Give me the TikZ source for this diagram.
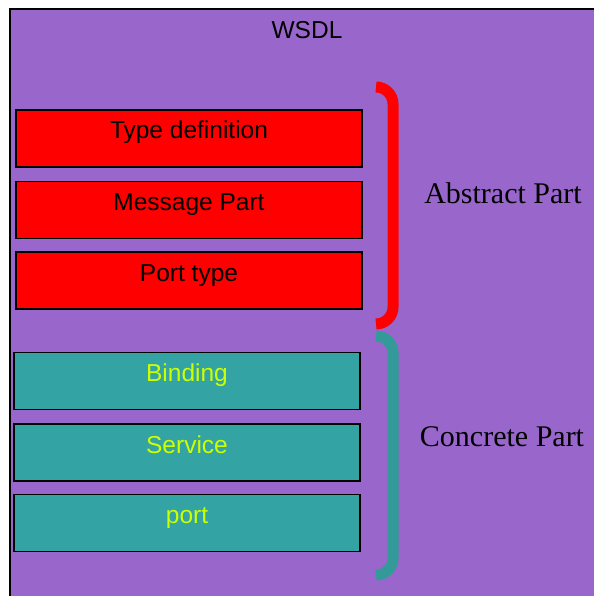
\documentclass[tikz,border=0pt]{standalone}
\usepackage{fontspec}
\setmainfont{Liberation Serif}
\setsansfont{Liberation Sans}
\definecolor{wsdlbg}{HTML}{9966CC}
\definecolor{tealbox}{HTML}{33A3A3}
\definecolor{tealbrace}{HTML}{339999}
\definecolor{limetext}{HTML}{CCFF00}

\begin{document}
\begin{tikzpicture}[
  x=1pt, y=-1pt,
  box/.style={draw=black, line width=1.2pt, minimum width=346pt, minimum height=57pt,
    inner sep=0pt, text height=17pt, text depth=16pt,
    font=\sffamily\fontsize{24.5}{28}\selectfont},
  abs/.style={box, fill=red, text=black},
  con/.style={box, fill=tealbox, text=limetext},
  brace/.style={line width=11pt, rounded corners=17pt},
  side/.style={anchor=base, font=\fontsize{30}{34}\selectfont}
]
\useasboundingbox (0,0) rectangle (594,596);
\fill[wsdlbg] (10,9) rectangle (594,596);
\draw[line width=1.5pt] (10,596) -- (10,9) -- (594,9);

\node[anchor=base, font=\sffamily\fontsize{24.5}{28}\selectfont] (wsdl) at (307,39) {WSDL};

\node[abs] (type) at (189,138.5) {Type definition};
\node[abs] (msg) at (189,210) {Message Part};
\node[abs] (ptype) at (189,280.5) {Port type};

\node[con] (bind) at (187,381) {Binding};
\node[con] (serv) at (187,452.5) {Service};
\node[con] (port) at (187,523) {port};

\coordinate (a1) at (376,87);
\coordinate (a2) at (376,324);
\coordinate (c1) at (376,336);
\coordinate (c2) at (376,575);
\draw[brace, red] (a1) -- ++(17,0) |- (a2);
\draw[brace, tealbrace] (c1) -- ++(17,0) |- (c2);

\node[side] (abspart) at (503,203) {Abstract Part};
\node[side] (conpart) at (502,446) {Concrete Part};
\end{tikzpicture}
\end{document}
